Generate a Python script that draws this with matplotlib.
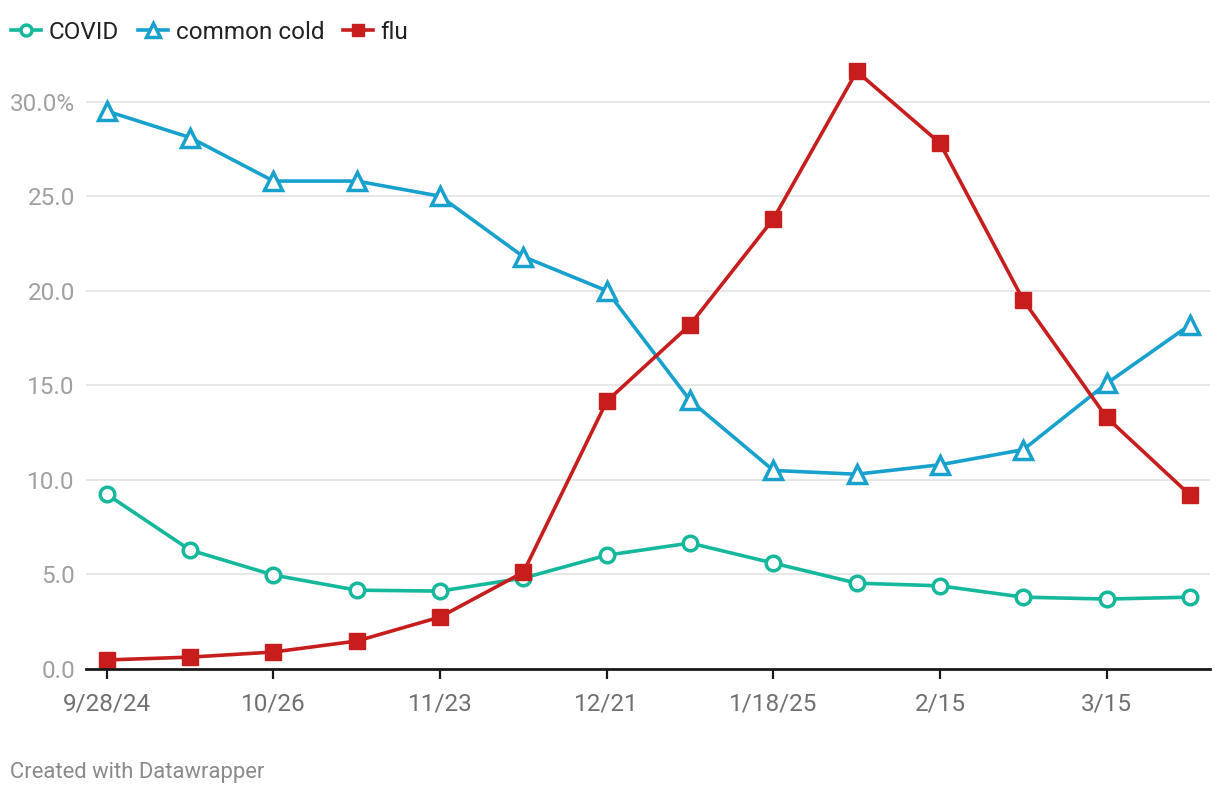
import matplotlib
matplotlib.use('Agg')
import matplotlib.pyplot as plt

plt.rcParams['font.family'] = ['Roboto', 'DejaVu Sans']

# biweekly dates, 9/28/24 .. 4/5/25
dates = ['9/28/24', '10/12', '10/26', '11/9', '11/23', '12/7', '12/21',
         '1/4/25', '1/18/25', '2/1', '2/15', '3/1', '3/15', '3/29']
tick_idx = [0, 2, 4, 6, 8, 10, 12]
tick_labels = ['9/28/24', '10/26', '11/23', '12/21', '1/18/25', '2/15', '3/15']

covid = [9.24, 6.29, 4.97, 4.17, 4.12, 4.81, 6.02, 6.66, 5.60, 4.54, 4.40, 3.80, 3.70, 3.80]
cold = [29.5, 28.1, 25.8, 25.8, 25.0, 21.8, 20.0, 14.2, 10.5, 10.3, 10.8, 11.6, 15.1, 18.2]
flu = [0.48, 0.63, 0.90, 1.48, 2.75, 5.12, 14.16, 18.2, 23.8, 31.6, 27.8, 19.5, 13.3, 9.2]

x = list(range(len(dates)))

fig = plt.figure(figsize=(12.2, 7.96), dpi=100)
ax = fig.add_axes([0.0705, 0.1595, 0.9213, 0.7651])

ax.plot(x, covid, color='#15b89a', linewidth=2.6, marker='o', markersize=10.5,
        markerfacecolor='white', markeredgewidth=2.5, label='COVID', zorder=3)
ax.plot(x, cold, color='#18a1cd', linewidth=2.6, marker='^', markersize=13.5,
        markerfacecolor='white', markeredgewidth=2.5, label='common cold', zorder=4)
ax.plot(x, flu, color='#c71e1d', linewidth=2.6, marker='s', markersize=11.5,
        label='flu', zorder=5)

ax.set_xlim(-0.25, 13.24)
ax.set_ylim(0, 32.2)

ax.set_yticks([0, 5, 10, 15, 20, 25, 30])
ax.set_yticklabels(['0.0', '5.0', '10.0', '15.0', '20.0', '25.0', '30.0%'])
ax.set_xticks(tick_idx)
ax.set_xticklabels(tick_labels)

ax.grid(axis='y', color='#e3e3e3', linewidth=1.2)
ax.set_axisbelow(True)
for s in ['top', 'right', 'left']:
    ax.spines[s].set_visible(False)
ax.spines['bottom'].set_color('#1a1a1a')
ax.spines['bottom'].set_linewidth(2)
ax.spines['bottom'].set_zorder(6)

ax.tick_params(axis='y', length=0, pad=8, labelsize=17.5, labelcolor='#a0a0a0')
ax.tick_params(axis='x', length=7, width=1.6, color='#1a1a1a', pad=10,
               labelsize=17.5, labelcolor='#707070')

fig.legend(loc='upper left', bbox_to_anchor=(0.009, 0.974), ncol=3, frameon=False,
           fontsize=17.5, handlelength=1.25, handletextpad=0.3, columnspacing=0.78,
           borderpad=0, borderaxespad=0,
           labelcolor='#222222', markerscale=0.75)

fig.text(0.008, 0.022, 'Created with Datawrapper', fontsize=15.8, color='#8a8a8a')

fig.savefig('out.png', dpi=100)
